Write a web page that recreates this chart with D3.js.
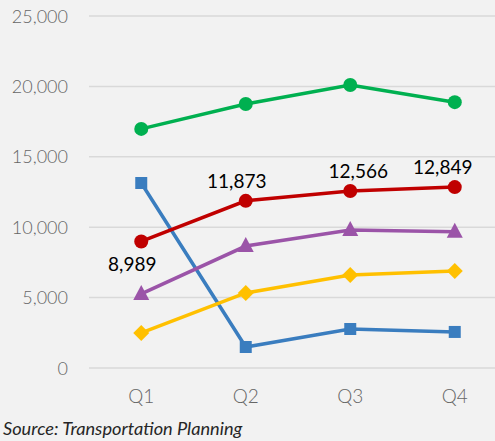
<!DOCTYPE html>
<html>
<head>
<meta charset="utf-8">
<script src="https://cdn.jsdelivr.net/npm/d3@7"></script>
<style>
  body { margin: 0; background: #f2f2f2; }
  svg { display: block; }
</style>
</head>
<body>
<div id="svg-container"></div>
<script>
const quarters = ["Q1", "Q2", "Q3", "Q4"]
const yTicks = [0, 5000, 10000, 15000, 20000, 25000]

const blueValues = [13140, 1490, 2770, 2560]
const yellowValues = [2490, 5330, 6600, 6890]
const purpleValues = [5260, 8660, 9800, 9680]
const redValues = [8989, 11873, 12566, 12849]
const greenValues = [16980, 18750, 20100, 18880]

const series = [
  { name: "blue", values: blueValues, color: "#3a7dbf", marker: "square" },
  { name: "yellow", values: yellowValues, color: "#ffc000", marker: "diamond" },
  { name: "purple", values: purpleValues, color: "#9b54a8", marker: "triangle" },
  { name: "red", values: redValues, color: "#c00000", marker: "circle" },
  { name: "green", values: greenValues, color: "#00b050", marker: "circle" }
]

const width = 495
const height = 441

const svg = d3.select("#svg-container")
  .append("svg")
    .attr("width", width)
    .attr("height", height)

svg.append("rect")
  .attr("width", width)
  .attr("height", height)
  .attr("fill", "#f2f2f2")

const xScale = d3.scaleBand()
  .domain(quarters)
  .range([89, 507])

const yScale = d3.scaleLinear()
  .domain([0, 25000])
  .range([368, 16])

const font = "Lato, 'Open Sans', sans-serif"

// gridlines + y labels
svg.selectAll(".grid")
  .data(yTicks)
  .join("line")
    .attr("x1", 89)
    .attr("x2", width)
    .attr("y1", d => yScale(d))
    .attr("y2", d => yScale(d))
    .attr("stroke", "#d9d9d9")
    .attr("stroke-width", 1.5)

svg.selectAll(".ylab")
  .data(yTicks)
  .join("text")
    .text(d => d3.format(",")(d))
    .attr("x", 68)
    .attr("y", d => yScale(d) + 6.5)
    .attr("text-anchor", "end")
    .style("font-family", font)
    .style("font-size", "18px")
    .style("font-weight", 300)
    .attr("fill", "#666")

svg.selectAll(".xlab")
  .data(quarters)
  .join("text")
    .text(d => d)
    .attr("x", d => xScale(d) + xScale.bandwidth() / 2)
    .attr("y", 403)
    .attr("text-anchor", "middle")
    .style("font-family", font)
    .style("font-size", "19px")
    .style("font-weight", 300)
    .attr("fill", "#666")

const cx = (d, i) => xScale(quarters[i]) + xScale.bandwidth() / 2

const line = d3.line()
  .x(cx)
  .y(d => yScale(d))

// marker shapes, drawn around 0,0
const markerPath = {
  square: "M-6,-6H6V6H-6Z",
  diamond: "M0,-8L8,0L0,8L-8,0Z",
  triangle: "M0,-9L8,6H-8Z",
  circle: "M7,0A7,7 0 1,1 -7,0A7,7 0 1,1 7,0Z"
}

series.forEach(s => {
  svg.append("path")
    .datum(s.values)
    .attr("d", line)
    .attr("fill", "none")
    .attr("stroke", s.color)
    .attr("stroke-width", 3.5)

  svg.selectAll(".m-" + s.name)
    .data(s.values)
    .join("path")
      .attr("d", markerPath[s.marker])
      .attr("transform", (d, i) => `translate(${cx(d, i)}, ${yScale(d)})`)
      .attr("fill", s.color)
})

// data labels on red series
const labelDx = [-9, -9, 8, -12]
const labelDy = [30, -13, -13, -13]

svg.selectAll(".dlab")
  .data(redValues)
  .join("text")
    .text(d => d3.format(",")(d))
    .attr("x", (d, i) => cx(d, i) + labelDx[i])
    .attr("y", (d, i) => yScale(d) + labelDy[i])
    .attr("text-anchor", "middle")
    .style("font-family", font)
    .style("font-size", "19px")
    .attr("fill", "#000")

svg.append("text")
  .text("Source: Transportation Planning")
  .attr("x", 3)
  .attr("y", 435)
  .style("font-family", font)
  .style("font-size", "18.2px")
  .style("font-style", "italic")
  .attr("fill", "#262626")
</script>
</body>
</html>
